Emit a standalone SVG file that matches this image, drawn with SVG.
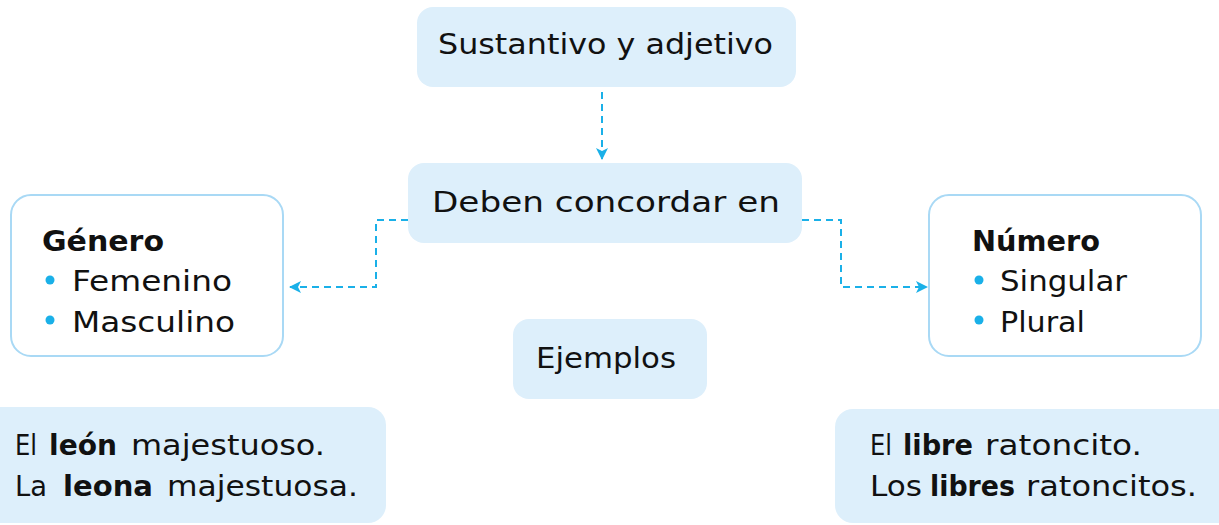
<svg xmlns="http://www.w3.org/2000/svg" width="1219" height="525" viewBox="0 0 1219 525">
<defs>
<style>
.box{fill:#DDEFFB;}
.obox{fill:#FFFFFF;stroke:#A9D9F5;stroke-width:2;}
.t{font-family:"DejaVu Sans","Liberation Sans",Arial,sans-serif;font-size:29px;fill:#111111;}
.b{font-weight:bold;}
.conn{fill:none;stroke:#1AB0E8;stroke-width:2;stroke-dasharray:7 5;}
.dot{fill:#1AB0E8;}
</style>
<marker id="arr" viewBox="0 0 12 12" refX="11" refY="6" markerWidth="12" markerHeight="12" markerUnits="userSpaceOnUse" orient="auto">
<path d="M0,0 L12,6 L0,12 L3,6 Z" fill="#1AB0E8"/>
</marker>
</defs>
<rect width="1219" height="525" fill="#FFFFFF"/>
<g id="connectors">
<path class="conn" d="M602,92 V159" marker-end="url(#arr)"/>
<path class="conn" d="M408,220 H376 V287 H290" marker-end="url(#arr)"/>
<path class="conn" d="M802,220 H841 V287 H927" marker-end="url(#arr)"/>
</g>
<g id="n-sustantivo">
<rect class="box" x="417" y="7" width="379" height="80" rx="16"/>
<text class="t" x="438" y="54" textLength="335" lengthAdjust="spacingAndGlyphs">Sustantivo y adjetivo</text>
</g>
<g id="n-deben">
<rect class="box" x="408" y="163" width="394" height="80" rx="16"/>
<text class="t" x="432" y="212" textLength="348" lengthAdjust="spacingAndGlyphs">Deben concordar en</text>
</g>
<g id="n-genero">
<rect class="obox" x="11" y="195" width="272" height="161" rx="20"/>
<text class="t b" x="42" y="251" textLength="122" lengthAdjust="spacingAndGlyphs">Género</text>
<circle class="dot" cx="50" cy="280" r="4.5"/>
<text class="t" x="72" y="291" textLength="160" lengthAdjust="spacingAndGlyphs">Femenino</text>
<circle class="dot" cx="50" cy="320" r="4.5"/>
<text class="t" x="72" y="332" textLength="163" lengthAdjust="spacingAndGlyphs">Masculino</text>
</g>
<g id="n-numero">
<rect class="obox" x="929" y="195" width="272" height="161" rx="20"/>
<text class="t b" x="972" y="251" textLength="128" lengthAdjust="spacingAndGlyphs">Número</text>
<circle class="dot" cx="979" cy="280" r="4.5"/>
<text class="t" x="1000" y="291" textLength="127" lengthAdjust="spacingAndGlyphs">Singular</text>
<circle class="dot" cx="979" cy="320" r="4.5"/>
<text class="t" x="1000" y="332" textLength="85" lengthAdjust="spacingAndGlyphs">Plural</text>
</g>
<g id="n-ejemplos">
<rect class="box" x="513" y="319" width="194" height="80" rx="16"/>
<text class="t" x="536" y="368" textLength="140" lengthAdjust="spacingAndGlyphs">Ejemplos</text>
</g>
<g id="n-ejemplo-genero">
<rect class="box" x="-20" y="407" width="406" height="116" rx="18"/>
<text class="t" x="15" y="455" textLength="22" lengthAdjust="spacingAndGlyphs">El</text>
<text class="t b" x="49" y="455" textLength="68" lengthAdjust="spacingAndGlyphs">león</text>
<text class="t" x="131" y="455" textLength="194" lengthAdjust="spacingAndGlyphs">majestuoso.</text>
<text class="t" x="15" y="496" textLength="32" lengthAdjust="spacingAndGlyphs">La</text>
<text class="t b" x="63" y="496" textLength="90" lengthAdjust="spacingAndGlyphs">leona</text>
<text class="t" x="167" y="496" textLength="191" lengthAdjust="spacingAndGlyphs">majestuosa.</text>
</g>
<g id="n-ejemplo-numero">
<rect class="box" x="835" y="409" width="405" height="114" rx="18"/>
<text class="t" x="870" y="455" textLength="22" lengthAdjust="spacingAndGlyphs">El</text>
<text class="t b" x="903" y="455" textLength="70" lengthAdjust="spacingAndGlyphs">libre</text>
<text class="t" x="985" y="455" textLength="157" lengthAdjust="spacingAndGlyphs">ratoncito.</text>
<text class="t" x="870" y="496" textLength="52" lengthAdjust="spacingAndGlyphs">Los</text>
<text class="t b" x="930" y="496" textLength="85" lengthAdjust="spacingAndGlyphs">libres</text>
<text class="t" x="1026" y="496" textLength="171" lengthAdjust="spacingAndGlyphs">ratoncitos.</text>
</g>
</svg>
